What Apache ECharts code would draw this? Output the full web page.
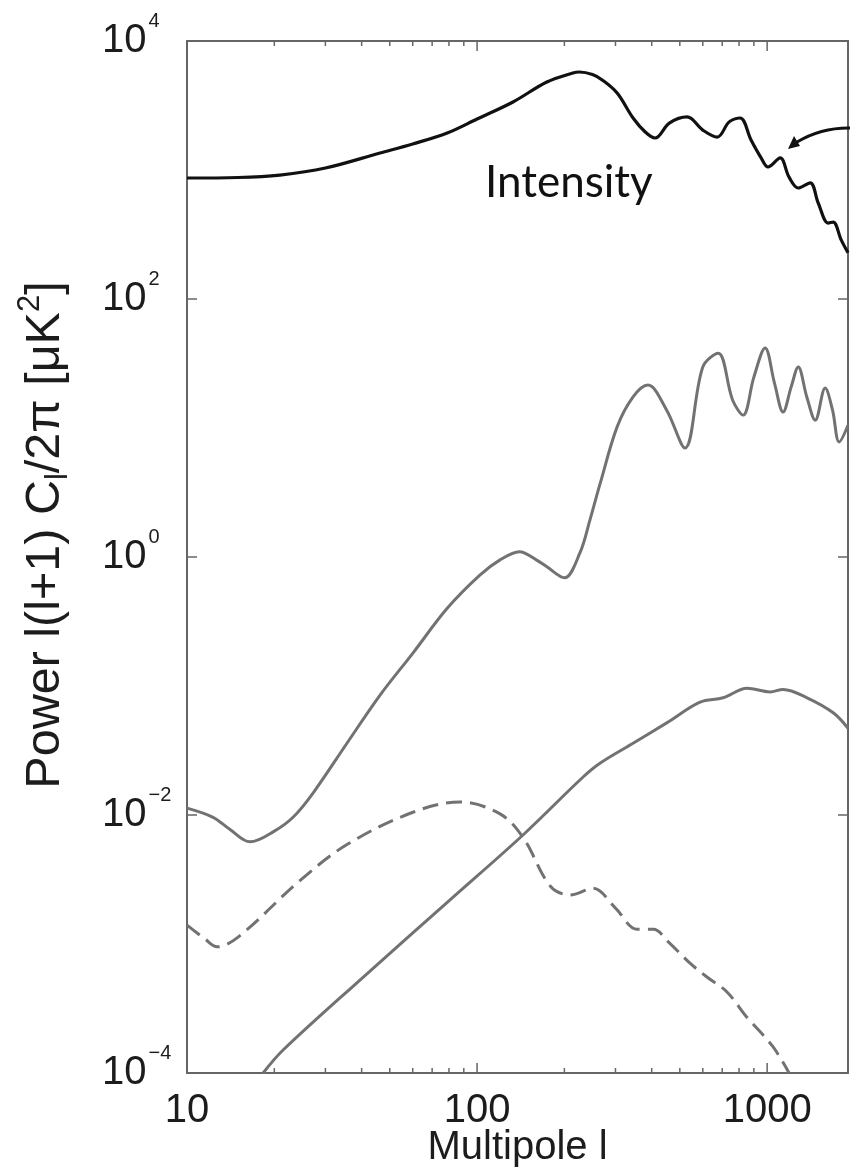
<!DOCTYPE html>
<html>
<head>
<meta charset="utf-8">
<style>
html,body{margin:0;padding:0;background:#fff;}
#chart{width:850px;height:1174px;}
</style>
<script src="https://cdn.jsdelivr.net/npm/echarts@6/dist/echarts.min.js"></script>
</head>
<body>
<div id="chart"></div>
<script>
// ---- data (multipole l, power in muK^2) ----
const ttL = [10, 15, 20.9, 30, 46.3, 60, 78.9, 100, 133, 174, 214, 225, 250, 270, 304, 345, 380, 411, 460, 530, 600, 673, 740, 807, 880, 950, 1007, 1109, 1190, 1280, 1407, 1500, 1622, 1690, 1800, 1900];
const ttV = [867, 875, 914, 1036, 1355, 1591, 1936, 2485, 3366, 4810, 5650, 5750, 5500, 4990, 3950, 2530, 1970, 1770, 2310, 2580, 2040, 1800, 2360, 2530, 1710, 1260, 1055, 1240, 880, 725, 795, 555, 388, 395, 287, 228];

const eeL = [10, 12.3, 14, 16.5, 20, 23.2, 27.2, 35.6, 46.3, 60.1, 78.9, 102, 120, 140, 160, 174, 200, 226, 245, 266, 304, 345, 388, 450, 521, 600, 678, 760, 826, 900, 984, 1060, 1135, 1210, 1280, 1370, 1465, 1585, 1680, 1772, 1900];
const eeV = [0.0113, 0.0096, 0.0078, 0.0062, 0.0075, 0.0096, 0.0148, 0.036, 0.085, 0.18, 0.40, 0.72, 0.95, 1.1, 0.95, 0.84, 0.69, 1.07, 1.94, 3.75, 10.2, 17.4, 21.5, 13.8, 7.0, 29.7, 38, 16.5, 12.6, 24.8, 41.7, 22.3, 13.3, 20.8, 29.7, 17.4, 11.5, 20.4, 13.8, 7.8, 10.5];

const lensL = [18.3, 21.4, 40, 80.7, 144, 232, 266, 345, 452, 587, 705, 853, 1023, 1135, 1373, 1690, 1900];
const lensV = [0.0001, 0.00015, 0.00054, 0.0022, 0.007, 0.0197, 0.0253, 0.036, 0.052, 0.075, 0.081, 0.096, 0.090, 0.094, 0.081, 0.062, 0.047];

const tensL = [10, 11.5, 12.7, 15, 24.5, 35.6, 60.1, 87.3, 120, 144, 179, 209, 251, 300, 356, 405, 460, 542, 620, 727, 850, 1047, 1190];
const tensV = [0.0014, 0.0011, 0.00095, 0.00113, 0.0031, 0.0059, 0.0105, 0.0126, 0.0102, 0.0067, 0.0028, 0.0024, 0.0027, 0.0019, 0.0013, 0.0013, 0.00102, 0.00071, 0.000555, 0.000425, 0.000272, 0.00016, 0.0001];

const xMajorTicks = [10, 100, 1000];
const xMinorTicks = [20, 30, 40, 50, 60, 70, 80, 90, 200, 300, 400, 500, 600, 700, 800, 900];
const yTicks = [1e-4, 1e-2, 1, 1e2, 1e4];

const xName = 'Multipole l';
const annotationText = 'Intensity';

// ---- chart ----
const pair = (xs, ys) => xs.map((x, i) => [x, ys[i]]);
const FONT = '"Liberation Sans", Arial, Helvetica, sans-serif';
const AX = '#666666';
const TXT = '#1c1c1c';
const GRAY = '#727272';
const Y_MIN = 1e-4, Y_MAX = 1e4;

const tickData = xMajorTicks.map(v => [v, 10]).concat(xMinorTicks.map(v => [v, 5]));

const chart = echarts.init(document.getElementById('chart'), null, {renderer: 'canvas'});

function yLabel(v) {
  const e = Math.round(Math.log10(v));
  const s = e < 0 ? '\u2212' + Math.abs(e) : String(e);
  return '{b|10}{s|' + s + '}';
}

const yAxisBase = {
  type: 'log', logBase: 10, min: Y_MIN, max: Y_MAX,
  axisLine: {show: true, onZero: false, lineStyle: {color: AX, width: 2}},
  axisTick: {show: true, inside: true, length: 10, customValues: yTicks, lineStyle: {color: AX, width: 1.5}},
  splitLine: {show: false}
};

chart.setOption({
  animation: false,
  backgroundColor: '#ffffff',
  grid: {left: 187, right: 2, top: 41, bottom: 101, containLabel: false, outerBoundsMode: 'none'},
  xAxis: [
    {
      type: 'log', logBase: 10, min: 10, max: 1900, position: 'bottom',
      axisLine: {show: true, onZero: false, lineStyle: {color: AX, width: 2}},
      axisTick: {show: false},
      axisLabel: {show: true, customValues: xMajorTicks, margin: 18, fontSize: 40, fontFamily: FONT, color: TXT,
        formatter: v => String(Math.round(v))},
      splitLine: {show: false},
      name: xName, nameLocation: 'middle', nameGap: 55, nameMoveOverlap: false,
      nameTextStyle: {fontSize: 40, fontFamily: FONT, color: TXT}
    },
    {
      type: 'log', logBase: 10, min: 10, max: 1900, position: 'top',
      axisLine: {show: true, onZero: false, lineStyle: {color: AX, width: 2}},
      axisTick: {show: false}, axisLabel: {show: false}, splitLine: {show: false}
    }
  ],
  yAxis: [
    Object.assign({}, yAxisBase, {
      position: 'left',
      axisLabel: {
        show: true, customValues: yTicks, align: 'left', margin: 85,
        formatter: yLabel,
        rich: {
          b: {fontSize: 40, fontFamily: FONT, color: TXT},
          s: {fontSize: 20, fontFamily: FONT, color: TXT, padding: [0, 0, 40, 2]}
        }
      },
      name: '{t|Power l(l+1) C}{sub|l}{t|/2\u03c0 [\u03bcK}{sup|2}{t|]}',
      nameLocation: 'middle', nameGap: 111, nameRotate: 90, nameMoveOverlap: false,
      nameTextStyle: {
        padding: [0, 0, 0, 44],
        rich: {
          t: {fontSize: 48.5, fontFamily: FONT, color: TXT},
          sub: {fontSize: 31, fontFamily: FONT, color: TXT, padding: [26, 0, 0, 0]},
          sup: {fontSize: 31, fontFamily: FONT, color: TXT, padding: [0, 0, 30, 0]}
        }
      }
    }),
    Object.assign({}, yAxisBase, {position: 'right', axisLabel: {show: false}})
  ],
  series: [
    {name: 'x ticks', type: 'custom', data: tickData, silent: true, z: 1,
      renderItem: function (params, api) {
        const v = api.value(0), len = api.value(1);
        const pb = api.coord([v, Y_MIN]);
        const pt = api.coord([v, Y_MAX]);
        const st = {stroke: AX, lineWidth: 1.5};
        return {type: 'group', children: [
          {type: 'line', shape: {x1: pb[0], y1: pb[1], x2: pb[0], y2: pb[1] - len}, style: st},
          {type: 'line', shape: {x1: pt[0], y1: pt[1], x2: pt[0], y2: pt[1] + len}, style: st}
        ]};
      }
    },
    {name: 'Intensity', type: 'line', data: pair(ttL, ttV), smooth: 0.35, symbol: 'none',
      lineStyle: {color: '#111111', width: 3.2}, z: 5},
    {name: 'E-mode', type: 'line', data: pair(eeL, eeV), smooth: 0.35, symbol: 'none',
      lineStyle: {color: GRAY, width: 3}},
    {name: 'B-mode lensing', type: 'line', data: pair(lensL, lensV), smooth: 0.35, symbol: 'none',
      lineStyle: {color: GRAY, width: 3}},
    {name: 'B-mode tensor', type: 'line', data: pair(tensL, tensV), smooth: 0.35, symbol: 'none',
      lineStyle: {color: GRAY, width: 3, type: [16, 8]}}
  ],
  graphic: [
    {type: 'text', left: 485, top: 161, z: 10,
      style: {text: annotationText, fontSize: 44, fontFamily: 'Lato, "Open Sans", sans-serif', fill: '#111'}},
    {type: 'bezierCurve', z: 10,
      shape: {x1: 852, y1: 128, cpx1: 822, cpy1: 127, x2: 797, y2: 142},
      style: {stroke: '#111', lineWidth: 3, fill: null}},
    {type: 'polygon', z: 10,
      shape: {points: [[788, 149], [800, 146], [794, 136]]},
      style: {fill: '#111'}}
  ]
});
</script>
</body>
</html>
